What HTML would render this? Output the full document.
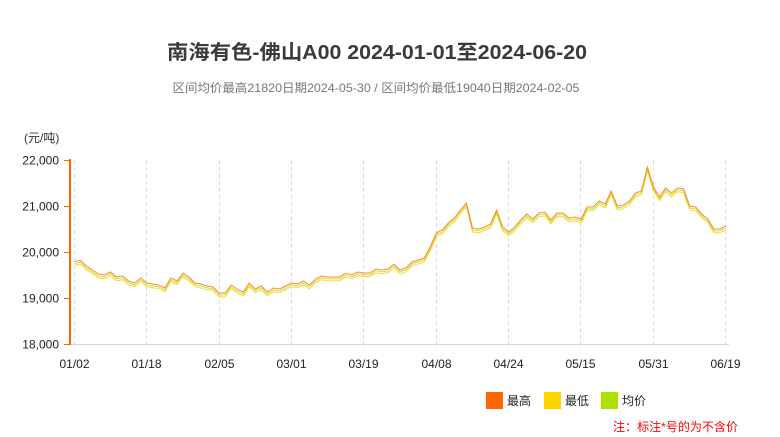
<!DOCTYPE html>
<html><head><meta charset="utf-8"><style>
html,body{margin:0;padding:0;background:#fff;}
svg{display:block;}
text{font-family:"Liberation Sans","Noto Sans CJK SC",sans-serif;}
</style></head><body>
<svg width="780" height="437" viewBox="0 0 780 437" xmlns="http://www.w3.org/2000/svg">
<defs>
<polyline id="ln" fill="none" points="74.3,261.7 80.3,260.3 86.4,266 92.4,270 98.4,274 104.5,275 110.5,272 116.5,277 122.6,276 128.6,281 134.6,283 140.7,278 146.7,283 152.7,284 158.8,285 164.8,288 170.8,278 176.9,281 182.9,273 188.9,277 195,283 201,284 207,286 213,287 219.1,293 225.1,293 231.1,285 237.2,289 243.2,292 249.2,283 255.3,289 261.3,286 267.3,292 273.4,288 279.4,289 285.4,286 291.5,283 297.5,284 303.5,281 309.6,285 315.6,279 321.6,276 327.7,277 333.7,277 339.7,277 345.8,273 351.8,275 357.8,272 363.9,273 369.9,273 375.9,269 382,270 388,269 394,264 400.1,270 406.1,268 412.1,262 418.2,260 424.2,258 430.2,247 436.3,233 442.3,230 448.3,223 454.4,218 460.4,210 466.4,203 472.5,228 478.5,229 484.5,227 490.6,224 496.6,210 502.6,227 508.7,232 514.7,227 520.7,220 526.8,214 532.8,219 538.8,213 544.9,212 550.9,220 556.9,213 563,213 569,218 575,217 581.1,219 587.1,207 593.1,207 599.2,201 605.2,204 611.2,191 617.3,206 623.3,205 629.3,201 635.4,193 641.4,191 647.4,167 653.5,187 659.5,197 665.5,188 671.6,193 677.6,188 683.6,189 689.7,206 695.7,207 701.7,214 707.8,219 713.8,229 719.8,229 725.9,226"/>
</defs>
<rect width="780" height="437" fill="#fff"/>
<text x="377" y="59" text-anchor="middle" font-size="20" font-weight="bold" fill="#3a3a3a" textLength="420" lengthAdjust="spacingAndGlyphs">南海有色-佛山A00 2024-01-01至2024-06-20</text>
<text x="376" y="92" text-anchor="middle" font-size="12" fill="#777" textLength="407" lengthAdjust="spacingAndGlyphs">区间均价最高21820日期2024-05-30 / 区间均价最低19040日期2024-02-05</text>
<text x="24" y="142" font-size="12" fill="#333">(元/吨)</text>
<g stroke="#dcdcdc" stroke-width="1" stroke-dasharray="4,3">
<line x1="74.5" y1="160" x2="74.5" y2="348"/>
<line x1="146.5" y1="160" x2="146.5" y2="348"/>
<line x1="219.5" y1="160" x2="219.5" y2="348"/>
<line x1="291.5" y1="160" x2="291.5" y2="348"/>
<line x1="363.5" y1="160" x2="363.5" y2="348"/>
<line x1="436.5" y1="160" x2="436.5" y2="348"/>
<line x1="508.5" y1="160" x2="508.5" y2="348"/>
<line x1="580.5" y1="160" x2="580.5" y2="348"/>
<line x1="653.5" y1="160" x2="653.5" y2="348"/>
<line x1="725.5" y1="160" x2="725.5" y2="348"/>
</g>
<line x1="70" y1="344.5" x2="729" y2="344.5" stroke="#d8d8d8" stroke-width="1"/>
<line x1="70" y1="159" x2="70" y2="345" stroke="#ff6600" stroke-width="2"/>
<g stroke="#ff6600" stroke-width="1">
<line x1="64" y1="160.5" x2="70" y2="160.5"/>
<line x1="64" y1="206.5" x2="70" y2="206.5"/>
<line x1="64" y1="252.5" x2="70" y2="252.5"/>
<line x1="64" y1="298.5" x2="70" y2="298.5"/>
<line x1="64" y1="344.5" x2="70" y2="344.5"/>
</g>
<g font-size="12" fill="#222" text-anchor="end">
<text x="59" y="164.5">22,000</text>
<text x="59" y="210.5">21,000</text>
<text x="59" y="256.5">20,000</text>
<text x="59" y="302.5">19,000</text>
<text x="59" y="348.5">18,000</text>
</g>
<g font-size="12" fill="#222" text-anchor="middle">
<text x="74.5" y="368">01/02</text>
<text x="146.5" y="368">01/18</text>
<text x="219.5" y="368">02/05</text>
<text x="291.5" y="368">03/01</text>
<text x="363.5" y="368">03/19</text>
<text x="436.5" y="368">04/08</text>
<text x="508.5" y="368">04/24</text>
<text x="580.5" y="368">05/15</text>
<text x="653.5" y="368">05/31</text>
<text x="725.5" y="368">06/19</text>
</g>
<use href="#ln" stroke="#ffd400" stroke-width="1" stroke-opacity="0.85" transform="translate(0,3.8)"/>
<use href="#ln" stroke="#b4e02a" stroke-width="1" stroke-opacity="0.85" transform="translate(0,1.9)"/>
<use href="#ln" stroke="#ff7a22" stroke-width="1" stroke-opacity="0.9"/>
<rect x="486" y="392" width="17" height="17" fill="#ff6600"/>
<text x="507" y="405" font-size="12" fill="#222">最高</text>
<rect x="544" y="392" width="17" height="17" fill="#ffd200"/>
<text x="565" y="405" font-size="12" fill="#222">最低</text>
<rect x="601" y="392" width="17" height="17" fill="#b0e000"/>
<text x="622" y="405" font-size="12" fill="#222">均价</text>
<text x="613" y="431" font-size="12" fill="#ff0000" textLength="125" lengthAdjust="spacingAndGlyphs">注：标注*号的为不含价</text>
</svg>
</body></html>
